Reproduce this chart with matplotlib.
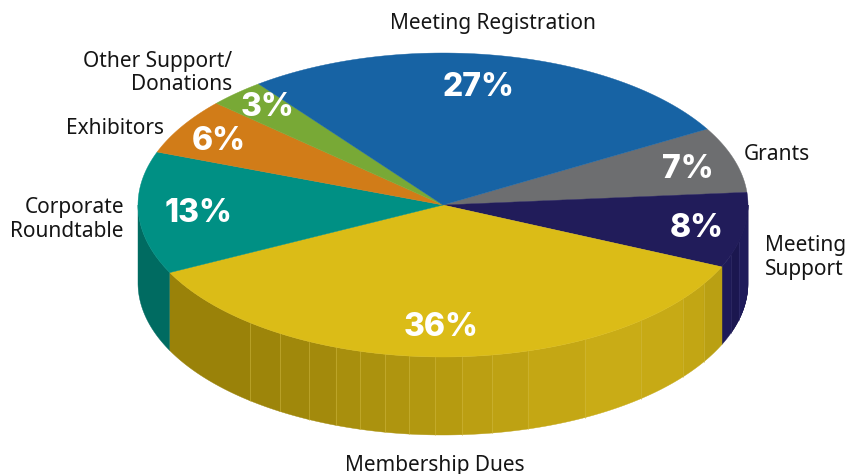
import numpy as np
import matplotlib
matplotlib.use("Agg")
import matplotlib.pyplot as plt
from matplotlib.patches import Polygon

# slices clockwise, starting at the Meeting Registration / Grants edge
names = ["Grants", "Meeting Support", "Membership Dues", "Corporate Roundtable",
         "Exhibitors", "Other Support/Donations", "Meeting Registration"]
shares = [7, 8, 36, 13, 6, 3, 27]
pct_labels = ["7%", "8%", "36%", "13%", "6%", "3%", "27%"]
top_colors = ["#6d6e70", "#211c5a", "#dbbc17", "#009084", "#d17c18", "#78a936", "#1763a4"]

cx, cy, rx, ry, depth = 443, 205, 305, 152, 78
start = 30.0


def rim(t):
    t = np.radians(t)
    return cx + rx*np.cos(t), cy - ry*np.sin(t)


def side(ax, t0, t1, color, edge=None):
    ''' one piece of the outer wall between two angles '''
    t = np.linspace(t0, t1, 40)
    x, y = rim(t)
    pts = np.r_[np.c_[x, y], np.c_[x, y + depth][::-1]]
    ax.add_patch(Polygon(pts, closed=True, fc=color, ec=color, lw=0.3, zorder=2))
    if edge:
        ax.plot([x[0], x[0]], [y[0], y[0] + depth], color=edge, lw=0.5, alpha=0.7, zorder=3)


fig = plt.figure(figsize=(8.6, 4.74), dpi=100)
ax = fig.add_axes([0, 0, 1, 1])
ax.set_xlim(0, 860)
ax.set_ylim(474, 0)
ax.axis("off")

angles = start - np.cumsum([0] + shares)*3.6

# walls, only the front half shows
side(ax, 180, 360 + angles[3], "#006b61")
side(ax, angles[2], 0, "#1e1a58")
for xe, col in [(731, "#1b174f"), (739, "#1f1b5a")]:
    t = -np.degrees(np.arccos((xe - cx)/rx))
    side(ax, t, 0, col, edge="#3a3672")

# yellow wall is made of flat facets that get lighter to the right
facet_x = [170, 250, 280, 309, 336, 360, 385, 409, 435, 462, 492, 528, 585, 641, 683, 704, 722]
facet_col = ["#9a8209", "#9d850a", "#a0880b", "#a38a0c", "#a88f0d", "#ab920e", "#af950f", "#b29810",
             "#b69b10", "#bb9f12", "#bea213", "#c4a714", "#c9ac16", "#c7aa15", "#c2a614", "#baa013"]
for i in range(len(facet_col)):
    t0 = -np.degrees(np.arccos((facet_x[i] - cx)/rx))
    t1 = -np.degrees(np.arccos((facet_x[i+1] - cx)/rx))
    side(ax, t0, t1, facet_col[i], edge=None if i == 0 else "#d2bb45")

# top face
for i in range(len(shares)):
    t = np.linspace(angles[i], angles[i+1], 80)
    x, y = rim(t)
    pts = np.r_[[[cx, cy]], np.c_[x, y]]
    ax.add_patch(Polygon(pts, closed=True, fc=top_colors[i], ec=top_colors[i], lw=0.3, zorder=4))

# percent labels
pct_pos = [(688, 169), (697, 228), (441, 328), (198, 214), (219, 141), (267, 107), (479, 87)]
for lab, (x, y) in zip(pct_labels, pct_pos):
    ax.text(x, y, lab, color="white", fontsize=23, fontweight="heavy", family="Inter",
            ha="center", va="center", zorder=5)

# slice names
lab_font = dict(fontsize=15, family="Noto Sans", color="#151515", zorder=5)
ax.text(493, 23, "Meeting Registration", ha="center", va="center", **lab_font)
ax.text(744, 154, "Grants", ha="left", va="center", **lab_font)
ax.text(765, 246, "Meeting", ha="left", va="center", **lab_font)
ax.text(765, 269, "Support", ha="left", va="center", **lab_font)
ax.text(435, 465, "Membership Dues", ha="center", va="center", **lab_font)
ax.text(124, 208, "Corporate", ha="right", va="center", **lab_font)
ax.text(124, 231, "Roundtable", ha="right", va="center", **lab_font)
ax.text(164, 128, "Exhibitors", ha="right", va="center", **lab_font)
ax.text(232, 61, "Other Support/", ha="right", va="center", **lab_font)
ax.text(232, 84, "Donations", ha="right", va="center", **lab_font)

fig.savefig("out.png", dpi=100)
